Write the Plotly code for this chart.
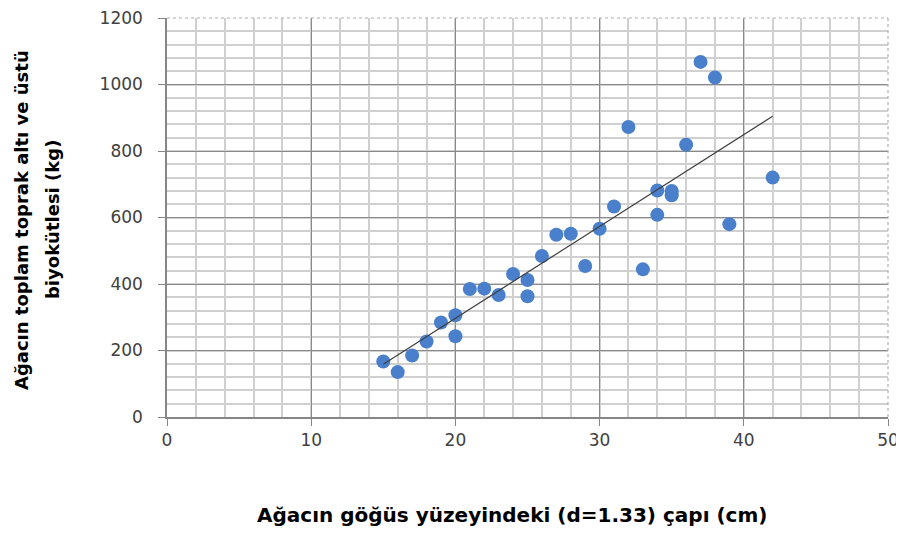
import numpy as np
import plotly.graph_objects as go

diameter_cm = [15, 16, 17, 18, 19, 20, 20, 21, 22, 23, 24, 25, 25, 26, 27, 28, 29, 30,
               31, 32, 33, 34, 34, 35, 35, 36, 37, 38, 39, 42]
biomass_kg = [167, 135, 185, 227, 284, 306, 243, 385, 386, 367, 430, 412, 363, 484, 548, 551, 454, 566,
              633, 872, 444, 681, 608, 680, 667, 819, 1068, 1021, 580, 720]

x_ticks = [0, 10, 20, 30, 40, 50]
y_ticks = [0, 200, 400, 600, 800, 1000, 1200]

slope, intercept = np.polyfit(diameter_cm, biomass_kg, 1)
trend_x = [min(diameter_cm), max(diameter_cm)]
trend_y = [slope * v + intercept for v in trend_x]

fig = go.Figure()
fig.add_trace(go.Scatter(x=diameter_cm, y=biomass_kg, mode="markers",
                         marker=dict(color="#4A7FCB", size=14, line=dict(width=0)),
                         showlegend=False))
fig.add_trace(go.Scatter(x=trend_x, y=trend_y, mode="lines",
                         line=dict(color="#404040", width=1.2), showlegend=False))

tick_font = "DejaVu Sans, sans-serif"
title_font = "DejaVu Sans, sans-serif"
fig.update_layout(
    width=896, height=518,
    margin=dict(l=159, r=16, t=10, b=109),
    paper_bgcolor="white", plot_bgcolor="white",
    font=dict(family=tick_font, color="#404040"),
)
axis_common = dict(
    ticks="outside", ticklen=7, tickcolor="#868686", tickwidth=1.2,
    showline=True, linecolor="#868686", linewidth=1.5, mirror=False,
    gridcolor="#8a8a8a", gridwidth=1.2, zeroline=False, automargin=False,
    ticklabeloverflow="allow",
    tickfont=dict(size=17, color="#404040", family=tick_font),
)
fig.update_xaxes(range=[0, 50], tickvals=x_ticks,
                 minor=dict(dtick=2, showgrid=True, gridcolor="#d0d0d0", gridwidth=1.8),
                 **axis_common)
fig.update_yaxes(range=[0, 1200], tickvals=y_ticks, ticklabelstandoff=12,
                 minor=dict(dtick=40, showgrid=True, gridcolor="#d0d0d0", gridwidth=1.8),
                 **axis_common)
# light dotted border on top/right of the plot area
fig.add_shape(type="line", xref="paper", yref="paper", x0=0, x1=1, y0=1, y1=1,
              line=dict(color="#b0b0b0", width=1.2, dash="dot"))
fig.add_shape(type="line", xref="paper", yref="paper", x0=1, x1=1, y0=0, y1=1,
              line=dict(color="#b0b0b0", width=1.2, dash="dot"))

fig.add_annotation(xref="paper", yref="paper", x=0.4785, y=-0.2456, yanchor="middle",
                   text="<b>Ağacın göğüs yüzeyindeki (d=1.33) çapı (cm)</b>", showarrow=False,
                   font=dict(size=20, color="black", family=title_font))
fig.add_annotation(xref="paper", yref="paper", x=-0.2025, y=0.4937, xanchor="center", yanchor="middle",
                   textangle=-90,
                   text="<b>Ağacın toplam toprak altı ve üstü</b>", showarrow=False,
                   font=dict(size=18, color="black", family=title_font))
fig.add_annotation(xref="paper", yref="paper", x=-0.1595, y=0.4937, xanchor="center", yanchor="middle",
                   textangle=-90,
                   text="<b>biyokütlesi (kg)</b>", showarrow=False,
                   font=dict(size=18, color="black", family=title_font))
fig.write_html("out.html")
